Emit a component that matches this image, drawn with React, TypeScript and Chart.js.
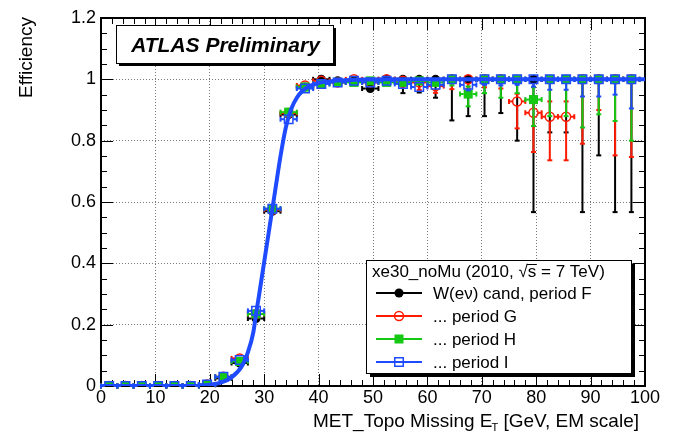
import React, { useEffect, useRef } from "react";
import { Chart, registerables } from "chart.js";

Chart.register(...registerables);

// Bin centres of the MET histogram (3 GeV bins, 0-99 GeV)
const binCenters = [
  1.5, 4.5, 7.5, 10.5, 13.5, 16.5, 19.5, 22.5, 25.5, 28.5, 31.5, 34.5, 37.5, 40.5, 43.5, 46.5, 49.5,
  52.5, 55.5, 58.5, 61.5, 64.5, 67.5, 70.5, 73.5, 76.5, 79.5, 82.5, 85.5, 88.5, 91.5, 94.5, 97.5,
];
const binHalfWidth = 1.5;

// Period F (W(ev) candidates)
const effF = [
  0, 0, 0, 0, 0, 0, 0.004, 0.025, 0.075, 0.22, 0.57, 0.885, 0.975, 1.0, 0.995, 0.995, 0.97,
  1.0, 1.0, 1.0, 1.0, 1.0, 1.0, 1.0, 1.0, 1.0, 1.0, 1.0, 1.0, 1.0, 1.0, 1.0, 1.0,
];
const errLoF = [
  0, 0, 0, 0, 0, 0, 0.002, 0.004, 0.007, 0.012, 0.012, 0.01, 0.006, 0.006, 0.005, 0.007, 0.014,
  0.01, 0.045, 0.043, 0.06, 0.134, 0.12, 0.12, 0.11, 0.2, 0.433, 0.173, 0.173, 0.433, 0.248, 0.433, 0.433,
];
const errHiF = [
  0, 0, 0, 0, 0, 0, 0.003, 0.005, 0.008, 0.012, 0.012, 0.009, 0.005, 0, 0.003, 0.003, 0.012,
  0, 0, 0, 0, 0, 0, 0, 0, 0, 0, 0, 0, 0, 0, 0, 0,
];

// Period G
const effG = [
  0, 0, 0, 0, 0, 0, 0.005, 0.03, 0.09, 0.235, 0.575, 0.89, 0.98, 0.995, 0.99, 1.0, 0.99,
  1.0, 0.995, 0.99, 0.978, 1.0, 1.0, 1.0, 1.0, 0.928, 0.891, 0.878, 0.878, 1.0, 1.0, 1.0, 1.0,
];
const errLoG = [
  0, 0, 0, 0, 0, 0, 0.002, 0.004, 0.007, 0.012, 0.012, 0.009, 0.006, 0.006, 0.006, 0.008, 0.01,
  0.01, 0.02, 0.025, 0.022, 0.032, 0.03, 0.026, 0.03, 0.088, 0.128, 0.142, 0.142, 0.21, 0.1, 0.248, 0.253,
];
const errHiG = [
  0, 0, 0, 0, 0, 0, 0.003, 0.005, 0.008, 0.012, 0.012, 0.009, 0.005, 0.004, 0.005, 0, 0.006,
  0, 0.004, 0.006, 0.015, 0, 0, 0, 0, 0.025, 0.045, 0.05, 0.05, 0, 0, 0, 0,
];

// Period H
const effH = [
  0, 0, 0, 0, 0, 0, 0.005, 0.03, 0.08, 0.235, 0.578, 0.893, 0.975, 0.985, 0.99, 0.99, 0.995,
  0.99, 0.99, 0.995, 0.99, 1.0, 0.952, 1.0, 1.0, 1.0, 0.934, 1.0, 1.0, 1.0, 1.0, 1.0, 1.0,
];
const errLoH = [
  0, 0, 0, 0, 0, 0, 0.002, 0.004, 0.007, 0.012, 0.012, 0.009, 0.006, 0.005, 0.005, 0.006, 0.006,
  0.008, 0.01, 0.01, 0.012, 0.02, 0.04, 0.045, 0.06, 0.045, 0.086, 0.12, 0.12, 0.157, 0.114, 0.136, 0.2,
];
const errHiH = [
  0, 0, 0, 0, 0, 0, 0.003, 0.005, 0.008, 0.012, 0.012, 0.009, 0.005, 0.005, 0.004, 0.004, 0.003,
  0.004, 0.005, 0.003, 0.005, 0, 0.025, 0, 0, 0, 0.04, 0, 0, 0, 0, 0, 0,
];

// Period I
const effI = [
  0, 0, 0, 0, 0, 0, 0.005, 0.03, 0.085, 0.245, 0.578, 0.87, 0.97, 0.985, 0.99, 0.995, 0.99,
  0.995, 0.985, 0.975, 0.982, 1.0, 0.982, 1.0, 1.0, 1.0, 1.0, 1.0, 1.0, 1.0, 1.0, 1.0, 1.0,
];
const errLoI = [
  0, 0, 0, 0, 0, 0, 0.002, 0.004, 0.007, 0.012, 0.012, 0.01, 0.006, 0.005, 0.004, 0.004, 0.005,
  0.004, 0.008, 0.012, 0.012, 0.012, 0.018, 0.018, 0.02, 0.018, 0.024, 0.034, 0.034, 0.056, 0.056, 0.05, 0.095,
];
const errHiI = [
  0, 0, 0, 0, 0, 0, 0.003, 0.005, 0.008, 0.012, 0.012, 0.01, 0.006, 0.005, 0.004, 0.003, 0.004,
  0.003, 0.006, 0.01, 0.008, 0, 0.01, 0, 0, 0, 0, 0, 0, 0, 0, 0, 0,
];

// Turn-on fit (error-function shape) sampled along MET
const fitX = [0, 15, 18, 20, 22, 24, 26, 27, 28, 28.5, 29, 30, 31, 32, 33, 34, 35, 36, 37, 38, 40, 43, 47, 55, 100];
const fitY = [0, 0, 0.001, 0.004, 0.011, 0.028, 0.068, 0.11, 0.175, 0.235, 0.29, 0.405, 0.52, 0.635, 0.75, 0.845, 0.905, 0.94, 0.962, 0.975, 0.988, 0.995, 0.999, 1.0, 1.0];

const legendHeader = "xe30_noMu (2010, \u221As = 7 TeV)";
const seriesLabels = ["W(e\u03BD) cand, period F", "... period G", "... period H", "... period I"];
const seriesColors = ["#000000", "#ff1a00", "#14c814", "#1e4bff"];
const fitColor = "#1e4bff";

const FONT = "'Liberation Sans', Arial, Helvetica, sans-serif";

type Marker = "dot" | "ring" | "box" | "frame";
const seriesMarkers: Marker[] = ["dot", "ring", "box", "frame"];

function drawMarker(ctx: CanvasRenderingContext2D, kind: Marker, x: number, y: number, color: string) {
  ctx.save();
  ctx.lineWidth = 1.5;
  ctx.strokeStyle = color;
  ctx.fillStyle = color;
  if (kind === "dot") {
    ctx.beginPath();
    ctx.arc(x, y, 4.5, 0, Math.PI * 2);
    ctx.fill();
  } else if (kind === "ring") {
    ctx.beginPath();
    ctx.arc(x, y, 4.5, 0, Math.PI * 2);
    ctx.stroke();
  } else if (kind === "box") {
    ctx.fillRect(x - 4.5, y - 4.5, 9, 9);
  } else {
    ctx.strokeRect(x - 4.25, y - 4.25, 8.5, 8.5);
  }
  ctx.restore();
}

const errorBarPlugin = {
  id: "errorBars",
  beforeDatasetDraw(chart: any, args: any) {
    const ds = chart.data.datasets[args.index];
    if (!ds.errLo) return;
    const { ctx } = chart;
    const xs = chart.scales.x;
    const ys = chart.scales.y;
    const gap = 4.5;
    const cap = 2.5;
    ctx.save();
    ctx.strokeStyle = ds.borderColor;
    ctx.lineWidth = 2;
    const seg = (x1: number, y1: number, x2: number, y2: number) => {
      ctx.beginPath();
      ctx.moveTo(x1, y1);
      ctx.lineTo(x2, y2);
      ctx.stroke();
    };
    ds.data.forEach((p: any, i: number) => {
      const px = xs.getPixelForValue(p.x);
      const py = ys.getPixelForValue(p.y);
      const xl = xs.getPixelForValue(p.x - binHalfWidth);
      const xr = xs.getPixelForValue(p.x + binHalfWidth);
      seg(xl, py, px - gap, py);
      seg(px + gap, py, xr, py);
      seg(xl, py - cap, xl, py + cap);
      seg(xr, py - cap, xr, py + cap);
      const yl = ys.getPixelForValue(p.y - ds.errLo[i]);
      const yh = ys.getPixelForValue(p.y + ds.errHi[i]);
      if (yl - py > gap) {
        seg(px, py + gap, px, yl);
        seg(px - cap, yl, px + cap, yl);
      }
      if (py - yh > gap) {
        seg(px, py - gap, px, yh);
        seg(px - cap, yh, px + cap, yh);
      }
    });
    ctx.restore();
  },
};

const frameTicksPlugin = {
  id: "frameTicks",
  beforeDatasetsDraw(chart: any) {
    const { ctx, chartArea: a } = chart;
    const xs = chart.scales.x;
    const ys = chart.scales.y;
    ctx.save();
    ctx.strokeStyle = "#000";
    ctx.lineWidth = 1;
    for (let k = 0; k <= 50; k++) {
      const v = k * 2;
      const len = k % 5 === 0 ? 12 : 6;
      const px = Math.round(xs.getPixelForValue(v)) + 0.5;
      ctx.beginPath();
      ctx.moveTo(px, a.bottom);
      ctx.lineTo(px, a.bottom - len);
      ctx.moveTo(px, a.top);
      ctx.lineTo(px, a.top + len);
      ctx.stroke();
    }
    for (let k = 0; k <= 24; k++) {
      const v = k * 0.05;
      const len = k % 4 === 0 ? 12 : 6;
      const py = Math.round(ys.getPixelForValue(v)) + 0.5;
      ctx.beginPath();
      ctx.moveTo(a.left, py);
      ctx.lineTo(a.left + len, py);
      ctx.moveTo(a.right, py);
      ctx.lineTo(a.right - len, py);
      ctx.stroke();
    }
    ctx.lineWidth = 2;
    ctx.strokeRect(Math.round(a.left), Math.round(a.top), Math.round(a.right - a.left), Math.round(a.bottom - a.top));
    ctx.restore();
  },
};

const overlayPlugin = {
  id: "overlay",
  afterDraw(chart: any) {
    const { ctx, chartArea: a } = chart;
    ctx.save();

    // ATLAS label box with drop shadow
    const bx = 116, by = 25, bw = 217, bh = 38;
    ctx.fillStyle = "#000";
    ctx.fillRect(bx + 3, by + 3, bw, bh);
    ctx.fillStyle = "#fff";
    ctx.fillRect(bx, by, bw, bh);
    ctx.strokeStyle = "#000";
    ctx.lineWidth = 1;
    ctx.strokeRect(bx + 0.5, by + 0.5, bw, bh);
    ctx.fillStyle = "#000";
    ctx.font = `italic bold 21px ${FONT}`;
    ctx.textAlign = "center";
    ctx.textBaseline = "alphabetic";
    ctx.fillText("ATLAS Preliminary", bx + bw / 2 + 1, by + 27);

    // Legend box with drop shadow
    const lx = 366, ly = 260, lw = 265, lh = 113;
    ctx.fillStyle = "#000";
    ctx.fillRect(lx + 4, ly + 4, lw, lh);
    ctx.fillStyle = "#fff";
    ctx.fillRect(lx, ly, lw, lh);
    ctx.strokeRect(lx + 0.5, ly + 0.5, lw, lh);

    ctx.fillStyle = "#000";
    ctx.font = `17px ${FONT}`;
    ctx.textAlign = "left";
    ctx.fillText(legendHeader, lx + 6, ly + 17);
    // overline of the square root
    const pre = "xe30_noMu (2010, \u221A";
    const sx = lx + 6 + ctx.measureText(pre).width;
    const sw = ctx.measureText("s").width;
    ctx.lineWidth = 1;
    ctx.beginPath();
    ctx.moveTo(sx - 1, ly + 4.5);
    ctx.lineTo(sx + sw + 0.5, ly + 4.5);
    ctx.stroke();

    seriesLabels.forEach((lab, i) => {
      const yy = ly + 33 + i * 23;
      ctx.strokeStyle = seriesColors[i];
      ctx.lineWidth = 2;
      ctx.beginPath();
      ctx.moveTo(lx + 10, yy);
      ctx.lineTo(lx + 56, yy);
      ctx.stroke();
      drawMarker(ctx, seriesMarkers[i], lx + 33, yy, seriesColors[i]);
      ctx.fillStyle = "#000";
      ctx.textBaseline = "middle";
      ctx.fillText(lab, lx + 67, yy + 1);
      ctx.textBaseline = "alphabetic";
    });

    // Axis titles
    ctx.fillStyle = "#000";
    ctx.font = `19px ${FONT}`;
    ctx.textAlign = "left";
    const t1 = "MET_Topo Missing E";
    const t2 = "T";
    const t3 = " [GeV, EM scale]";
    const w1 = ctx.measureText(t1).width;
    const w3 = ctx.measureText(t3).width;
    ctx.font = `11px ${FONT}`;
    const w2 = ctx.measureText(t2).width;
    const xEnd = 639;
    const base = 427;
    const x0 = xEnd - w3 - w2 + 1 - w1;
    ctx.font = `19px ${FONT}`;
    ctx.fillText(t1, x0, base);
    ctx.fillText(t3, x0 + w1 + w2 - 1, base);
    ctx.font = `11px ${FONT}`;
    ctx.fillText(t2, x0 + w1 - 1, base + 4);

    ctx.translate(32, a.top - 1);
    ctx.rotate(-Math.PI / 2);
    ctx.font = `19px ${FONT}`;
    ctx.textAlign = "right";
    ctx.fillText("Efficiency", 0, 0);
    ctx.restore();
  },
};

function pts(ys: number[]) {
  return binCenters.map((x, i) => ({ x, y: ys[i] }));
}

export default function App() {
  const ref = useRef<HTMLCanvasElement | null>(null);

  useEffect(() => {
    if (!ref.current) return;
    const effs = [effF, effG, effH, effI];
    const los = [errLoF, errLoG, errLoH, errLoI];
    const his = [errHiF, errHiG, errHiH, errHiI];
    const pointStyles = ["circle", "circle", "rect", "rect"];
    const radii = [4.5, 4.5, 6.4, 6.0];
    const fills = ["#000000", "rgba(0,0,0,0)", "#14c814", "rgba(0,0,0,0)"];

    const seriesSets: any[] = effs.map((e, i) => ({
      label: seriesLabels[i],
      data: pts(e),
      errLo: los[i],
      errHi: his[i],
      showLine: false,
      borderColor: seriesColors[i],
      backgroundColor: fills[i],
      pointBackgroundColor: fills[i],
      pointBorderColor: seriesColors[i],
      pointBorderWidth: i === 0 || i === 2 ? 0 : 1.5,
      pointStyle: pointStyles[i],
      pointRadius: radii[i],
      order: 4 - i,
    }));

    const chart = new Chart(ref.current, {
      type: "line",
      data: {
        datasets: [
          ...seriesSets,
          {
            label: "fit",
            data: fitX.map((x, i) => ({ x, y: fitY[i] })),
            borderColor: fitColor,
            borderWidth: 4,
            pointRadius: 0,
            cubicInterpolationMode: "monotone",
            fill: false,
            order: 0,
          },
        ],
      },
      options: {
        animation: false,
        responsive: false,
        devicePixelRatio: 1,
        events: [],
        layout: { padding: { left: 0, top: 18, right: 28, bottom: 0 } },
        plugins: { legend: { display: false }, tooltip: { enabled: false } },
        scales: {
          x: {
            type: "linear",
            min: 0,
            max: 100,
            afterFit: (s: any) => {
              s.height = 57;
            },
            ticks: {
              stepSize: 10,
              maxRotation: 0,
              autoSkip: false,
              padding: 1,
              color: "#000",
              font: { family: FONT, size: 18 },
            },
            grid: { color: "#7a7a7a", lineWidth: 1, drawTicks: false },
            border: { display: false, dash: [1, 2] },
          },
          y: {
            type: "linear",
            min: 0,
            max: 1.2,
            afterFit: (s: any) => {
              s.width = 101;
            },
            ticks: {
              stepSize: 0.2,
              padding: 5,
              color: "#000",
              font: { family: FONT, size: 18 },
              callback: (v: any) => String(Math.round(Number(v) * 10) / 10),
            },
            grid: { color: "#7a7a7a", lineWidth: 1, drawTicks: false },
            border: { display: false, dash: [1, 2] },
          },
        },
      } as any,
      plugins: [frameTicksPlugin, errorBarPlugin, overlayPlugin],
    });
    return () => chart.destroy();
  }, []);

  return (
    <div style={{ position: "absolute", left: 0, top: 0, width: 673, height: 443, background: "#fff" }}>
      <canvas ref={ref} width={673} height={443} />
    </div>
  );
}
